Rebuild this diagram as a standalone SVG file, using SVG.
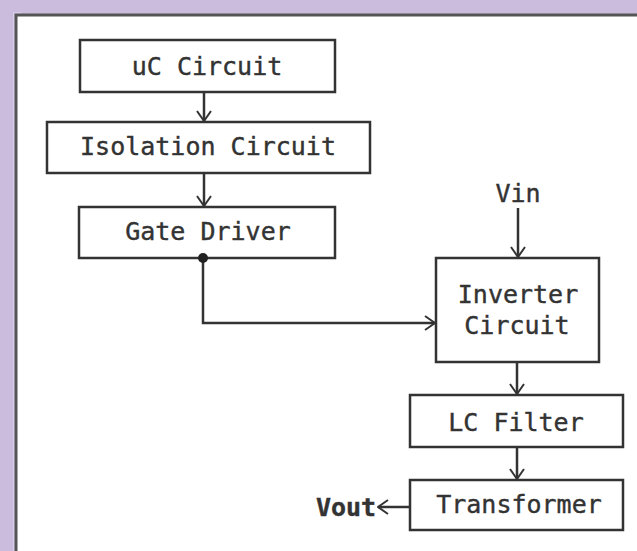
<svg xmlns="http://www.w3.org/2000/svg" width="637" height="551" viewBox="0 0 637 551">
<defs>
<style>
.box{fill:#fff;stroke:#333;stroke-width:2.5}
.lbl{font-family:"DejaVu Sans Mono","Liberation Mono",monospace;font-size:25px;fill:#333;stroke:#333;stroke-width:0.4;text-anchor:middle}
.wire{fill:none;stroke:#333;stroke-width:2.5}
</style>
<marker id="ah" viewBox="0 0 12 16" refX="11" refY="8" markerWidth="12" markerHeight="16" markerUnits="userSpaceOnUse" orient="auto">
<path d="M1,1 L11,8 L1,15" fill="none" stroke="#333" stroke-width="2"/>
</marker>
</defs>
<rect width="637" height="551" fill="#cbbcdd"/>
<rect x="13" y="12" width="8" height="539" fill="#d9cbe9"/>
<rect x="16" y="15" width="625" height="540" fill="#fff" stroke="#555" stroke-width="3"/>
<g id="uc"><rect class="box" x="80" y="40" width="255" height="52"/><text class="lbl" x="207" y="75">uC Circuit</text></g>
<g id="iso"><rect class="box" x="47" y="122" width="323" height="51"/><text class="lbl" x="208" y="155">Isolation Circuit</text></g>
<g id="gate"><rect class="box" x="79" y="207" width="256" height="51"/><text class="lbl" x="208" y="240">Gate Driver</text></g>
<g id="inv"><rect class="box" x="436" y="258" width="163" height="104"/><text class="lbl" x="518" y="303">Inverter</text><text class="lbl" x="517" y="334">Circuit</text></g>
<g id="lc"><rect class="box" x="410" y="395" width="213" height="52"/><text class="lbl" x="516" y="431">LC Filter</text></g>
<g id="tr"><rect class="box" x="410" y="480" width="213" height="50"/><text class="lbl" x="519" y="513">Transformer</text></g>
<g id="vin"><text class="lbl" x="518" y="202">Vin</text></g>
<g id="vout"><text class="lbl" x="346" y="516" font-weight="bold">Vout</text></g>
<g id="connectors">
<line class="wire" x1="204" y1="92" x2="204" y2="121" marker-end="url(#ah)"/>
<line class="wire" x1="204" y1="173" x2="204" y2="206" marker-end="url(#ah)"/>
<polyline class="wire" points="203,258 203,323 435,323" marker-end="url(#ah)"/>
<circle cx="203" cy="258" r="5" fill="#222"/>
<line class="wire" x1="518" y1="208" x2="518" y2="257" marker-end="url(#ah)"/>
<line class="wire" x1="517" y1="362" x2="517" y2="394" marker-end="url(#ah)"/>
<line class="wire" x1="517" y1="447" x2="517" y2="479" marker-end="url(#ah)"/>
<line class="wire" x1="410" y1="507" x2="378" y2="507" marker-end="url(#ah)"/>
</g>
</svg>
